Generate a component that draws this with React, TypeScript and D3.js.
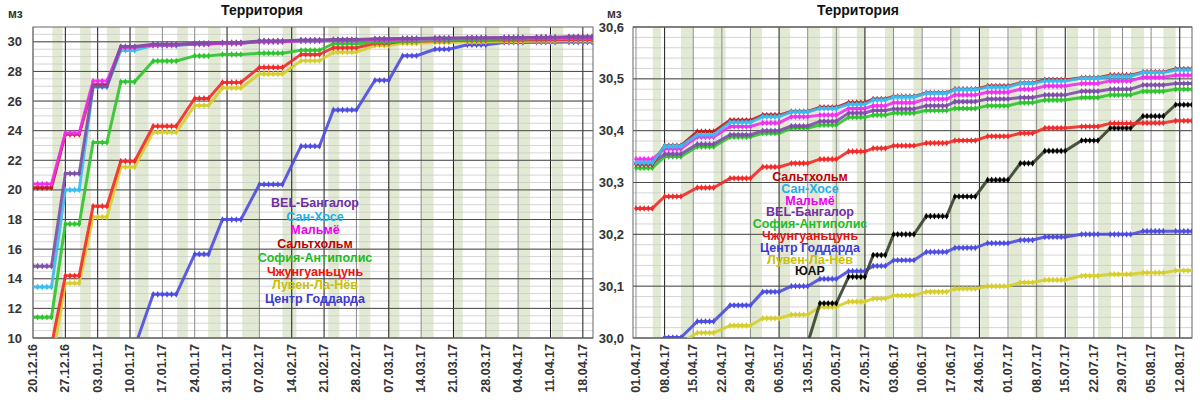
import React from "react";
import * as d3 from "d3";

const FONT = "'Liberation Sans', Arial, sans-serif";
const BAND = "#e2ead3";

// ---------- left chart: days counted from 20.12.16 ----------
const leftStart = Date.UTC(2016, 11, 20);
// plateaus [first day, last day] of each weekly step
const leftPlateaus: [number, number][] = [
  [0, 4], [7, 10], [13, 16], [19, 22], [26, 31], [35, 38], [41, 45], [49, 54], [58, 62],
  [65, 70], [74, 77], [80, 83], [87, 90], [94, 98], [102, 106], [109, 113], [116, 121],
];
// shaded days
const leftBands: [number, number][] = [
  [4.2, 6.4], [10.2, 12.5], [16, 18.8], [22.1, 25], [31.2, 33.5], [37.9, 40.6], [45.3, 49],
  [54, 57], [63.9, 66.3], [70.6, 73], [76.9, 79.3], [84, 86.7], [91, 93], [98, 100.9],
  [104.8, 107.6], [112.3, 114.7],
];
const leftDarkWeeks = [1, 2, 3, 6, 8, 9, 11, 13, 16, 17];

const lBangalore = [14.85, 21.1, 27.0, 29.68, 29.84, 29.9, 29.95, 30.06, 30.12, 30.15, 30.2, 30.23, 30.25, 30.27, 30.29, 30.31, 30.34];
const lSanJose = [13.45, 20.0, 26.95, 29.42, 29.75, 29.85, 29.9, 30.0, 30.06, 30.1, 30.15, 30.18, 30.2, 30.22, 30.24, 30.26, 30.28];
const lMalmo = [20.4, 23.85, 27.35, 29.63, 29.78, 29.85, 29.9, 30.01, 30.07, 30.1, 30.15, 30.19, 30.21, 30.23, 30.25, 30.27, 30.3];
const lSaltholm = [20.15, 23.75, 27.1, 29.65, 29.8, 29.87, 29.92, 30.03, 30.09, 30.12, 30.17, 30.2, 30.22, 30.24, 30.26, 30.28, 30.31];
const lSophia = [11.4, 17.7, 23.2, 27.3, 28.7, 29.05, 29.15, 29.23, 29.43, 29.87, 29.98, 30.05, 30.1, 30.15, 30.19, 30.22, 30.25];
const lZhong = [9.5, 14.2, 18.9, 21.94, 24.3, 26.18, 27.26, 28.27, 29.15, 29.6, 29.9, 30.03, 30.07, 30.1, 30.12, 30.14, 30.16];
const lLouvain = [8.15, 13.7, 18.17, 21.54, 23.9, 25.7, 26.88, 27.83, 28.72, 29.3, 29.75, 29.9, 29.96, 29.99, 30.02, 30.05, 30.08];
const lGoddard = [null, null, null, 9.37, 12.95, 15.66, 18.0, 20.37, 22.95, 25.4, 27.4, 29.06, 29.5, 29.8, 29.96, 29.97, 29.98];

const leftLegend = ["BEL-Бангалор", "Сан-Хосе", "Мальмё", "Сальтхольм", "София-Антиполис", "Чжунгуаньцунь", "Лувен-Ла-Нёв", "Центр Годдарда"];

// ---------- right chart: days counted from 01.04.17 ----------
const rightStart = Date.UTC(2017, 3, 1);
const rightPlateaus: [number, number][] = [
  [0, 4], [7, 11], [15, 19], [23, 28], [31, 35], [38, 42], [45, 49], [52, 56], [58, 61], [63, 68],
  [71, 76], [78, 83], [86, 91], [94, 97], [100, 105], [109, 113], [116, 121], [124, 129], [132, 136],
];
const rightBands: [number, number][] = [
  [4.1, 6.1], [11, 13.9], [19, 21.9], [27.8, 30.8], [35.1, 37.7], [42.1, 45], [48, 49.8], [54, 56.1],
  [60.9, 63.1], [67.9, 69.9], [76.8, 79.3], [84.2, 86.4], [91.3, 94.4], [97.5, 99.7], [105.4, 108.1],
  [113, 116.2], [121.1, 124.3], [129, 132],
];
const rightDarkWeeks = [1, 5, 8, 12, 15, 19];

const rSaltholm = [30.335, 30.371, 30.398, 30.42, 30.43, 30.437, 30.445, 30.454, 30.461, 30.466, 30.473, 30.48, 30.486, 30.492, 30.498, 30.502, 30.507, 30.513, 30.519];
const rSanJose = [30.338, 30.37, 30.392, 30.416, 30.427, 30.436, 30.443, 30.451, 30.459, 30.465, 30.472, 30.479, 30.484, 30.491, 30.496, 30.501, 30.505, 30.512, 30.517];
const rMalmo = [30.345, 30.365, 30.388, 30.408, 30.415, 30.427, 30.43, 30.443, 30.448, 30.454, 30.461, 30.469, 30.474, 30.48, 30.486, 30.491, 30.496, 30.503, 30.507];
const rBangalore = [30.337, 30.355, 30.374, 30.392, 30.4, 30.409, 30.418, 30.434, 30.439, 30.442, 30.448, 30.456, 30.461, 30.464, 30.469, 30.476, 30.48, 30.488, 30.491];
const rSophia = [30.328, 30.35, 30.369, 30.388, 30.395, 30.405, 30.411, 30.426, 30.43, 30.434, 30.439, 30.443, 30.448, 30.454, 30.459, 30.464, 30.469, 30.476, 30.48];
const rZhong = [30.25, 30.273, 30.29, 30.308, 30.33, 30.337, 30.345, 30.36, 30.366, 30.371, 30.376, 30.381, 30.389, 30.395, 30.405, 30.408, 30.414, 30.415, 30.419];
const rGoddard = [29.985, 30.001, 30.032, 30.063, 30.089, 30.1, 30.114, 30.129, 30.139, 30.15, 30.166, 30.174, 30.183, 30.189, 30.195, 30.2, 30.2, 30.206, 30.206];
const rLouvain = [null, 29.99, 30.01, 30.024, 30.038, 30.045, 30.06, 30.07, 30.076, 30.082, 30.089, 30.095, 30.1, 30.107, 30.112, 30.12, 30.123, 30.126, 30.13];
const rSouthAfrica = [null, null, null, null, null, 29.99, 30.067, 30.118, 30.16, 30.2, 30.235, 30.273, 30.305, 30.337, 30.361, 30.381, 30.405, 30.428, 30.45];

const rightLegend = ["Сальтхольм", "Сан-Хосе", "Мальмё", "BEL-Бангалор", "София-Антиполис", "Чжунгуаньцунь", "Центр Годдарда", "Лувен-Ла-Нёв", "ЮАР"];

const COLORS: Record<string, { line: string; text: string; mark?: string }> = {
  "BEL-Бангалор": { line: "#7d4fa6", text: "#7030a0" },
  "Сан-Хосе": { line: "#38bdf0", text: "#22b0e8" },
  "Мальмё": { line: "#f030f0", text: "#ee00ee" },
  "Сальтхольм": { line: "#c41818", text: "#c00000" },
  "София-Антиполис": { line: "#2ec42e", text: "#22bb22" },
  "Чжунгуаньцунь": { line: "#f22a2a", text: "#ee1111" },
  "Лувен-Ла-Нёв": { line: "#d6ce2a", text: "#c8c000" },
  "Центр Годдарда": { line: "#4c4ce0", text: "#3a3ad0" },
  "ЮАР": { line: "#37412d", text: "#111111", mark: "#000000" },
};

type Series = { name: string; values: (number | null)[] };

interface PanelProps {
  x0: number; x1: number; y0: number; y1: number;
  dayDomain: [number, number];
  start: number;
  weekCount: number;
  darkWeeks: number[];
  yDomain: [number, number];
  yMajor: number[];
  yMinor: number[];
  yFormat: (v: number) => string;
  plateaus: [number, number][];
  bands: [number, number][];
  series: Series[];
  legend: string[];
  legendX: number; legendY: number; legendStep: number;
  titleX: number; unitX: number; yLabelX: number;
  clipId: string;
}

const Panel: React.FC<PanelProps> = (p) => {
  const x = d3.scaleLinear().domain(p.dayDomain).range([p.x0, p.x1]);
  const y = d3.scaleLinear().domain(p.yDomain).range([p.y1, p.y0]);
  const line = d3.line<[number, number]>().x((d) => x(d[0])).y((d) => y(d[1]));
  const diamond = d3.symbol().type(d3.symbolDiamond).size(13)() ?? "";
  const dateLabel = d3.utcFormat("%d.%m.%y");
  const weeks = d3.range(0, p.weekCount);

  return (
    <g fontFamily={FONT}>
      <defs>
        <clipPath id={p.clipId}>
          <rect x={p.x0} y={p.y0} width={p.x1 - p.x0} height={p.y1 - p.y0} />
        </clipPath>
      </defs>

      {/* shaded days */}
      {p.bands.map(([a, b], i) => (
        <rect key={i} x={x(a)} y={p.y0} width={x(b) - x(a)} height={p.y1 - p.y0} fill={BAND} />
      ))}

      {/* grid */}
      {p.yMinor.map((v, i) => (
        <line key={"mi" + i} x1={p.x0} x2={p.x1} y1={y(v)} y2={y(v)} stroke="#cacaca" strokeWidth={0.8} />
      ))}
      {weeks.map((w) => (
        <line
          key={"w" + w}
          x1={x(w * 7)} x2={x(w * 7)} y1={p.y0} y2={p.y1}
          stroke={p.darkWeeks.includes(w) ? "#1a1a1a" : "#8c8c8c"}
          strokeWidth={1}
        />
      ))}
      {p.yMajor.map((v, i) => (
        <line key={"ma" + i} x1={p.x0} x2={p.x1} y1={y(v)} y2={y(v)} stroke="#4a4a4a" strokeWidth={1} />
      ))}
      <rect x={p.x0} y={p.y0} width={p.x1 - p.x0} height={p.y1 - p.y0} fill="none" stroke="#666" strokeWidth={1} />

      {/* series */}
      <g clipPath={`url(#${p.clipId})`}>
        {p.series.map((s) => {
          const c = COLORS[s.name];
          const pts: [number, number][] = [];
          const marks: [number, number][] = [];
          p.plateaus.forEach(([a, b], i) => {
            const v = s.values[i];
            if (v == null) return;
            pts.push([a, v], [b, v]);
            for (let d = a; d <= b; d++) marks.push([d, v]);
          });
          return (
            <g key={s.name}>
              <path d={line(pts) ?? ""} fill="none" stroke={c.line} strokeWidth={3} strokeLinejoin="round" opacity={0.9} />
              {marks.map(([d, v], i) => (
                <path key={i} d={diamond} transform={`translate(${x(d)},${y(v)})`} fill={c.mark ?? c.line} />
              ))}
            </g>
          );
        })}
      </g>

      {/* legend labels */}
      {p.legend.map((name, i) => (
        <text
          key={name}
          x={p.legendX}
          y={p.legendY + i * p.legendStep}
          textAnchor="middle"
          dominantBaseline="central"
          fontSize={12.5}
          fontWeight="bold"
          fill={COLORS[name].text}
        >
          {name}
        </text>
      ))}

      {/* y axis labels */}
      {p.yMajor.map((v, i) => (
        <text key={"yl" + i} x={p.yLabelX} y={y(v)} textAnchor="end" dominantBaseline="central" fontSize={13} fontWeight="bold" fill="#333">
          {p.yFormat(v)}
        </text>
      ))}

      {/* x axis labels */}
      {weeks.map((w) => {
        const tx = x(w * 7);
        const ty = p.y1 + 6;
        return (
          <text
            key={"xl" + w}
            transform={`translate(${tx},${ty}) rotate(-90)`}
            textAnchor="end"
            dominantBaseline="central"
            fontSize={12.5}
            fontWeight="bold"
            fill="#333"
          >
            {dateLabel(new Date(p.start + w * 7 * 864e5))}
          </text>
        );
      })}

      <text x={p.unitX} y={18} fontSize={12} fontWeight="bold" fill="#333">мз</text>
      <text x={p.titleX} y={15} textAnchor="middle" fontSize={14} fontWeight="bold" fill="#111">Территория</text>
    </g>
  );
};

const leftSeries: Series[] = [
  { name: "Центр Годдарда", values: lGoddard },
  { name: "Лувен-Ла-Нёв", values: lLouvain },
  { name: "Чжунгуаньцунь", values: lZhong },
  { name: "София-Антиполис", values: lSophia },
  { name: "Сан-Хосе", values: lSanJose },
  { name: "Сальтхольм", values: lSaltholm },
  { name: "Мальмё", values: lMalmo },
  { name: "BEL-Бангалор", values: lBangalore },
];

const rightSeries: Series[] = [
  { name: "Лувен-Ла-Нёв", values: rLouvain },
  { name: "Центр Годдарда", values: rGoddard },
  { name: "ЮАР", values: rSouthAfrica },
  { name: "Чжунгуаньцунь", values: rZhong },
  { name: "София-Антиполис", values: rSophia },
  { name: "BEL-Бангалор", values: rBangalore },
  { name: "Мальмё", values: rMalmo },
  { name: "Сальтхольм", values: rSaltholm },
  { name: "Сан-Хосе", values: rSanJose },
];

const commaFmt = (v: number) => d3.format(".1f")(v).replace(".", ",");

export default function App() {
  return (
    <svg width={1200} height={400} style={{ position: "absolute", left: 0, top: 0, background: "#fff" }}>
      <rect width={1200} height={400} fill="#fff" />
      <Panel
        x0={33} x1={593} y0={27} y1={338}
        dayDomain={[0, 121.2]}
        start={leftStart}
        weekCount={18}
        darkWeeks={leftDarkWeeks}
        yDomain={[10, 31]}
        yMajor={d3.range(10, 31, 2)}
        yMinor={d3.range(10, 31, 0.5)}
        yFormat={(v) => String(v)}
        plateaus={leftPlateaus}
        bands={leftBands}
        series={leftSeries}
        legend={leftLegend}
        legendX={315} legendY={203} legendStep={13.7}
        titleX={262} unitX={8} yLabelX={22}
        clipId="clipLeft"
      />
      <Panel
        x0={633} x1={1192} y0={27} y1={338}
        dayDomain={[-0.73, 136]}
        start={rightStart}
        weekCount={20}
        darkWeeks={rightDarkWeeks}
        yDomain={[30, 30.6]}
        yMajor={d3.range(0, 7).map((i) => 30 + i * 0.1)}
        yMinor={d3.range(0, 31).map((i) => 30 + i * 0.02)}
        yFormat={commaFmt}
        plateaus={rightPlateaus}
        bands={rightBands}
        series={rightSeries}
        legend={rightLegend}
        legendX={810} legendY={177} legendStep={11.8}
        titleX={858} unitX={607} yLabelX={624}
        clipId="clipRight"
      />
    </svg>
  );
}
